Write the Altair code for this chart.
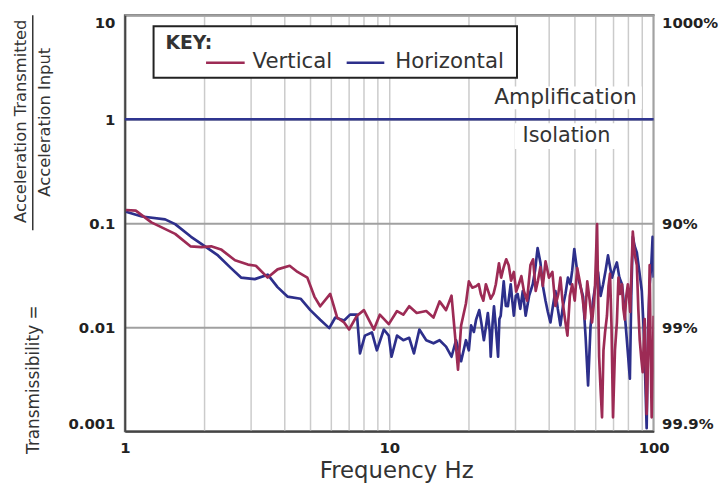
import altair as alt
import pandas as pd

# ---------------- data ----------------
vert_freq_low = [1.01, 1.10, 1.26, 1.55, 1.77, 1.95, 2.12, 2.31, 2.61, 2.92,
                 3.13, 3.47, 3.78, 4.20, 4.50, 4.90, 5.21, 5.48, 5.98, 6.35,
                 6.75, 7.05, 7.55, 8.02, 8.75, 9.21, 9.96, 10.7, 11.3, 11.9,
                 12.7, 13.8, 14.7, 15.5, 16.4, 17.2, 17.6, 18.2, 18.7, 19.5]
vert_val_low = [0.134, 0.132, 0.102, 0.079, 0.060, 0.059, 0.060, 0.056, 0.044, 0.040,
                0.039, 0.030, 0.036, 0.039, 0.034, 0.030, 0.0197, 0.0159, 0.0209, 0.0124,
                0.0111, 0.0095, 0.0129, 0.0146, 0.0095, 0.0132, 0.0107, 0.0143, 0.0132, 0.0159,
                0.0137, 0.0143, 0.0124, 0.0177, 0.0146, 0.0201, 0.0104, 0.0039, 0.0104, 0.0169]
vert_freq_high = [20.0, 20.6, 21.3, 21.8, 22.2, 22.7, 23.2, 23.7, 24.2, 24.8,
                  25.3, 26.0, 26.5, 27.1, 27.7, 28.3, 28.9, 29.6, 30.2, 30.9,
                  31.6, 32.3, 33.2, 34.2, 35.0, 35.8, 36.5, 37.3, 38.1, 39.0,
                  40.2, 41.4, 42.5, 43.6, 44.4, 45.2, 46.2, 47.2, 48.2, 49.2,
                  50.3, 51.4, 52.5, 53.7, 55.0, 56.1, 57.3, 58.5, 59.3, 60.0,
                  61.1, 62.2, 63.0, 63.8, 64.6, 65.5, 66.6, 67.5, 68.4, 69.3,
                  70.2, 71.4, 72.6, 73.6, 74.6, 75.9, 76.8, 77.8, 78.8, 79.9,
                  81.5, 83.4, 84.8, 86.4, 87.5, 88.6, 89.8, 90.9, 92.5, 94.1,
                  95.3, 96.6, 97.5, 98.3, 99.2, 100]
vert_val_high = [0.0276, 0.024, 0.0248, 0.026, 0.0209, 0.018, 0.0259, 0.022, 0.0188, 0.021,
                 0.0259, 0.0412, 0.030, 0.0379, 0.045, 0.0395, 0.028, 0.034, 0.022, 0.0259,
                 0.031, 0.0223, 0.018, 0.0395, 0.045, 0.0223, 0.028, 0.0379, 0.025, 0.043,
                 0.030, 0.034, 0.016, 0.0209, 0.030, 0.018, 0.012, 0.0083, 0.020, 0.0259,
                 0.018, 0.037, 0.028, 0.0201, 0.012, 0.0276, 0.018, 0.0111, 0.016, 0.0243,
                 0.098, 0.0052, 0.0025, 0.00136, 0.006, 0.0089, 0.0129, 0.025, 0.0327, 0.010,
                 0.00136, 0.006, 0.0111, 0.030, 0.0209, 0.0259, 0.015, 0.0118, 0.020, 0.0259,
                 0.014, 0.083, 0.05, 0.0395, 0.015, 0.0075, 0.005, 0.0037, 0.012, 0.00146,
                 0.006, 0.0395, 0.005, 0.00136, 0.004, 0.0129]

horiz_freq_low = [1.01, 1.16, 1.42, 1.55, 1.78, 2.01, 2.25, 2.52, 2.75, 3.10,
                  3.47, 3.78, 4.12, 4.62, 5.03, 5.48, 5.93, 6.25, 6.75, 7.11,
                  7.55, 7.75, 8.09, 8.60, 8.98, 9.54, 9.96, 10.2, 10.7, 11.3,
                  11.9, 12.4, 13.0, 13.8, 14.7, 15.5, 16.4, 17.2, 17.9, 18.7]
horiz_val_low = [0.129, 0.116, 0.109, 0.098, 0.074, 0.060, 0.049, 0.037, 0.030, 0.029,
                 0.032, 0.0243, 0.0197, 0.0188, 0.0146, 0.0118, 0.0098, 0.0124, 0.0116, 0.0132,
                 0.0132, 0.0056, 0.0083, 0.0089, 0.006, 0.0095, 0.0083, 0.0052, 0.0083, 0.0075,
                 0.0079, 0.0056, 0.0095, 0.0075, 0.0070, 0.0075, 0.0065, 0.0052, 0.0075, 0.0047]
horiz_freq_high = [19.5, 20.0, 20.4, 20.9, 21.3, 21.9, 22.3, 22.8, 23.2, 23.6,
                   24.0, 24.2, 24.6, 24.9, 25.3, 25.8, 26.1, 26.4, 26.8, 27.1,
                   27.6, 28.1, 28.8, 29.2, 29.6, 30.1, 30.6, 31.3, 32.0, 32.8,
                   33.8, 34.9, 35.6, 36.4, 37.3, 38.1, 39.0, 39.8, 40.7, 41.6,
                   42.5, 43.4, 44.4, 45.4, 46.4, 47.4, 48.4, 49.2, 50.1, 51.0,
                   51.8, 53.0, 54.1, 55.3, 56.5, 57.7, 59.0, 60.3, 61.6, 63.0,
                   64.4, 65.8, 67.2, 68.4, 69.6, 71.0, 72.6, 74.2, 75.9, 77.5,
                   79.2, 80.2, 81.3, 82.3, 83.4, 84.8, 86.4, 88.2, 90.2, 92.0,
                   94.1, 95.3, 96.6, 98.0, 99.1, 100]
horiz_val_high = [0.0075, 0.006, 0.0104, 0.009, 0.0118, 0.0146, 0.011, 0.0075, 0.010, 0.0137,
                  0.009, 0.0052, 0.011, 0.0159, 0.010, 0.0052, 0.012, 0.0129, 0.020, 0.0276,
                  0.016, 0.0159, 0.0259, 0.018, 0.0129, 0.020, 0.0209, 0.015, 0.0223, 0.0129,
                  0.020, 0.0259, 0.035, 0.0577, 0.042, 0.025, 0.018, 0.014, 0.0111, 0.016,
                  0.0223, 0.015, 0.0104, 0.016, 0.0209, 0.030, 0.0259, 0.035, 0.0565, 0.040,
                  0.030, 0.024, 0.0197, 0.008, 0.00275, 0.010, 0.018, 0.026, 0.034, 0.020,
                  0.0259, 0.035, 0.049, 0.038, 0.030, 0.036, 0.042, 0.030, 0.0259, 0.015,
                  0.0075, 0.005, 0.0032, 0.020, 0.074, 0.060, 0.052, 0.035, 0.0223, 0.008,
                  0.00107, 0.010, 0.0259, 0.040, 0.074, 0.030]

series_names = ["Vertical", "Horizontal"]
boundary_value = [1]
x_tick_values = [1, 2, 3, 4, 5, 6, 7, 8, 9, 10, 20, 30, 40, 50, 60, 70, 80, 90, 100]
x_label_values = [1, 10, 100]
y_left_values = [10, 1, 0.1, 0.01, 0.001]
y_right_values = [10, 0.1, 0.01, 0.001]
y_right_labels = ["1000%", "90%", "99%", "99.9%"]

title_num = "Acceleration Transmitted"
title_den = "Acceleration Input"
title_lhs = "Transmissibility ="
key_title = "KEY:"
amp_text = "Amplification"
iso_text = "Isolation"
x_title = "Frequency Hz"

# ---------------- style ----------------
W, H = 534, 420
FONT = "DejaVu Sans"
RED = "#9d2b55"
BLUE = "#2d2f8b"
TXT = "#333333"

xscale = alt.Scale(type="log", domain=[1, 100], nice=False)
yscale = alt.Scale(type="log", domain=[0.001, 10], nice=False)

x_label_expr = " || ".join(f"datum.value == {v}" for v in x_label_values)
x_axis = alt.Axis(values=x_tick_values, format="~g",
                  labelExpr=f"({x_label_expr}) ? datum.label : ''",
                  grid=True, gridColor="#cbcbcb", gridWidth=1.5,
                  ticks=False, tickSize=0, domainColor="#444444", domainWidth=2,
                  labelFont=FONT, labelFontSize=15, labelFontWeight="bold",
                  labelColor="#222222", labelPadding=10, labelFlush=False,
                  title=x_title, titleFont=FONT, titleFontSize=23,
                  titleFontWeight="normal", titleColor=TXT, titlePadding=4,
                  titleX=274, titleAlign="center")
y_axis = alt.Axis(values=y_left_values, format="~g",
                  grid=True, gridColor="#a0a0a0", gridWidth=2,
                  ticks=False, tickSize=0, domainColor="#444444", domainWidth=2,
                  labelFont=FONT, labelFontSize=15, labelFontWeight="bold",
                  labelColor="#222222", labelPadding=10, labelFlush=True,
                  title=None)

right_expr = ("datum.value > 5 ? '%s' : datum.value > 0.05 ? '%s' : "
              "datum.value > 0.005 ? '%s' : '%s'") % tuple(y_right_labels)
y_right_axis = alt.Axis(values=y_right_values, orient="right", labelExpr=right_expr,
                        grid=False, ticks=False, tickSize=0, domain=False,
                        labelFont=FONT, labelFontSize=15, labelFontWeight="bold",
                        labelColor="#222222", labelPadding=8, labelFlush=True,
                        title=None)

df_v = pd.DataFrame({"freq": vert_freq_low + vert_freq_high,
                     "value": vert_val_low + vert_val_high, "series": series_names[0]})
df_h = pd.DataFrame({"freq": horiz_freq_low + horiz_freq_high,
                     "value": horiz_val_low + horiz_val_high, "series": series_names[1]})

def series_layer(df, color):
    return alt.Chart(df).mark_line(color=color, strokeWidth=2.7, clip=True,
                                   strokeJoin="round").encode(
        x=alt.X("freq:Q", scale=xscale, axis=x_axis),
        y=alt.Y("value:Q", scale=yscale, axis=y_axis),
    )

one = pd.DataFrame({"k": [0]})

def txt(text, x, y, size, angle=0, align="center", weight="normal"):
    kw = dict(text=text, font=FONT, fontSize=size, color=TXT, align=align,
              baseline="middle", fontWeight=weight)
    if angle:
        kw["angle"] = angle
    return alt.Chart(one).mark_text(**kw).encode(x=alt.value(x), y=alt.value(y))

def box(x, x2, y, y2, **kw):
    return alt.Chart(one).mark_rect(**kw).encode(
        x=alt.value(x), x2=alt.value(x2), y=alt.value(y), y2=alt.value(y2))

def hline(x, x2, y, color, width):
    return alt.Chart(one).mark_rule(color=color, strokeWidth=width).encode(
        x=alt.value(x), x2=alt.value(x2), y=alt.value(y))

# annotations (pixel positions relative to plot area)
amp_bg = box(369, 522, 72, 95, fill="white")
iso_bg = box(394, 499, 109, 135, fill="white")
amp = txt(amp_text, 445, 83, 22)
iso = txt(iso_text, 446, 122, 21)

key_box = box(29, 396, 11, 63, fill="white", stroke="#222222", strokeWidth=2)
key_t = txt(key_title, 41, 28, 19, align="left", weight="bold")
key_v_line = hline(82, 121, 48, RED, 2.5)
key_v = txt(series_names[0], 129, 47, 21.5, align="left")
key_h_line = hline(224, 262, 48, BLUE, 2.5)
key_h = txt(series_names[1], 273, 47, 21.5, align="left")

t_num = txt(title_num, -105, 107, 16.5, angle=270)
t_den = txt(title_den, -81, 108, 16.5, angle=270)
t_bar = alt.Chart(one).mark_rule(color=TXT, strokeWidth=1.5).encode(
    x=alt.value(-93), y=alt.value(0), y2=alt.value(217))
t_lhs = txt(title_lhs, -92, 368, 17, angle=270)

inner = alt.layer(
    amp_bg, iso_bg,
    series_layer(df_h, BLUE), series_layer(df_v, RED),
    amp, iso,
    key_box, key_t, key_v_line, key_v, key_h_line, key_h,
    t_num, t_den, t_bar, t_lhs,
)

rule_df = pd.DataFrame({"b": boundary_value})
boundary = alt.Chart(rule_df).mark_rule(color="#2f3590", strokeWidth=2.5).encode(
    y=alt.Y("b:Q", scale=yscale, axis=y_right_axis),
    x=alt.value(0), x2=alt.value(W),
)

chart = alt.layer(inner, boundary).resolve_scale(y="independent").resolve_axis(
    y="independent"
).properties(
    width=W, height=H,
    padding={"left": 118, "top": 5, "right": 66, "bottom": 52},
    autosize=alt.AutoSizeParams(type="none"),
).configure_view(stroke="#666666", strokeWidth=2)

chart.save("out.html", embed_options={"renderer": "svg", "actions": False})
